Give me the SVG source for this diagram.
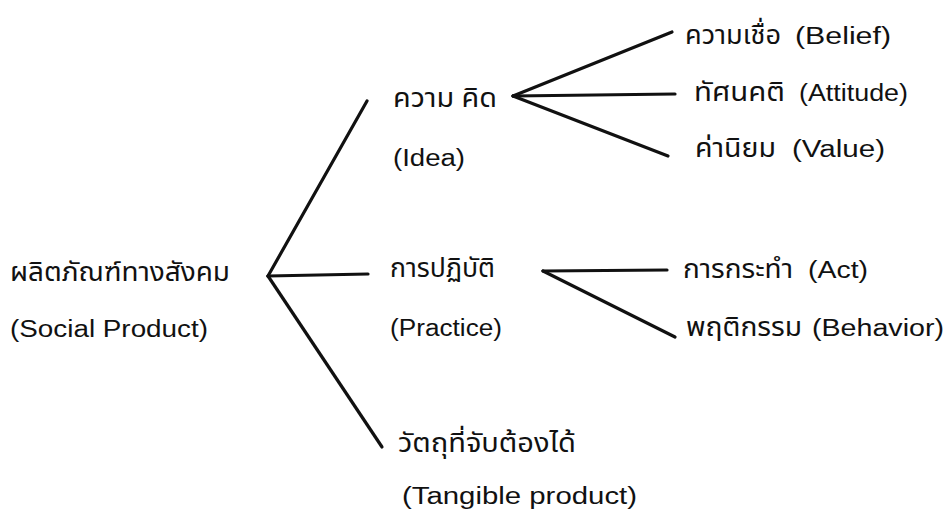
<svg xmlns="http://www.w3.org/2000/svg" width="947" height="515" viewBox="0 0 947 515">
<style>
.th{font-family:"Noto Sans Thai","Noto Sans","DejaVu Sans","Liberation Sans",sans-serif;font-size:26px;fill:#111}
.en{font-family:"Liberation Sans",Arial,sans-serif;font-size:23px;fill:#111}
.ln{stroke:#111;stroke-width:3.2;stroke-linecap:round;fill:none}
</style>
<rect width="947" height="515" fill="#fff"/>
<g id="connectors">
<line class="ln" x1="268" y1="276" x2="367" y2="101"/>
<line class="ln" x1="268" y1="276" x2="368" y2="274"/>
<line class="ln" x1="268" y1="276" x2="382" y2="447"/>
<line class="ln" x1="513" y1="96" x2="672" y2="32"/>
<line class="ln" x1="513" y1="96" x2="675" y2="94"/>
<line class="ln" x1="513" y1="96" x2="668" y2="156"/>
<line class="ln" x1="543" y1="271" x2="667" y2="270"/>
<line class="ln" x1="543" y1="271" x2="675" y2="337"/>
</g>
<g id="root">
<text class="th" x="10" y="281" textLength="220" lengthAdjust="spacingAndGlyphs">ผลิตภัณฑ์ทางสังคม</text>
<text class="en" x="10" y="337" textLength="198" lengthAdjust="spacingAndGlyphs">(Social Product)</text>
</g>
<g id="idea">
<text class="th" x="393" y="107" textLength="104" lengthAdjust="spacingAndGlyphs">ความ คิด</text>
<text class="en" x="393" y="166" textLength="72" lengthAdjust="spacingAndGlyphs">(Idea)</text>
</g>
<g id="practice">
<text class="th" x="390" y="277" textLength="105" lengthAdjust="spacingAndGlyphs">การปฏิบัติ</text>
<text class="en" x="390" y="336" textLength="112" lengthAdjust="spacingAndGlyphs">(Practice)</text>
</g>
<g id="tangible">
<text class="th" x="398" y="452" textLength="178" lengthAdjust="spacingAndGlyphs">วัตถุที่จับต้องได้</text>
<text class="en" x="402" y="504" textLength="235" lengthAdjust="spacingAndGlyphs">(Tangible  product)</text>
</g>
<g id="belief">
<text class="th" x="685" y="44" textLength="96" lengthAdjust="spacingAndGlyphs">ความเชื่อ</text>
<text class="en" x="795" y="44" textLength="96" lengthAdjust="spacingAndGlyphs">(Belief)</text>
</g>
<g id="attitude">
<text class="th" x="694" y="101" textLength="91" lengthAdjust="spacingAndGlyphs">ทัศนคติ</text>
<text class="en" x="799" y="101" textLength="109" lengthAdjust="spacingAndGlyphs">(Attitude)</text>
</g>
<g id="value">
<text class="th" x="695" y="157" textLength="81" lengthAdjust="spacingAndGlyphs">ค่านิยม</text>
<text class="en" x="792" y="157" textLength="93" lengthAdjust="spacingAndGlyphs">(Value)</text>
</g>
<g id="act">
<text class="th" x="683" y="278" textLength="110" lengthAdjust="spacingAndGlyphs">การกระทำ</text>
<text class="en" x="808" y="278" textLength="60" lengthAdjust="spacingAndGlyphs">(Act)</text>
</g>
<g id="behavior">
<text class="th" x="686" y="336" textLength="116" lengthAdjust="spacingAndGlyphs">พฤติกรรม</text>
<text class="en" x="812" y="336" textLength="132" lengthAdjust="spacingAndGlyphs">(Behavior)</text>
</g>
</svg>
